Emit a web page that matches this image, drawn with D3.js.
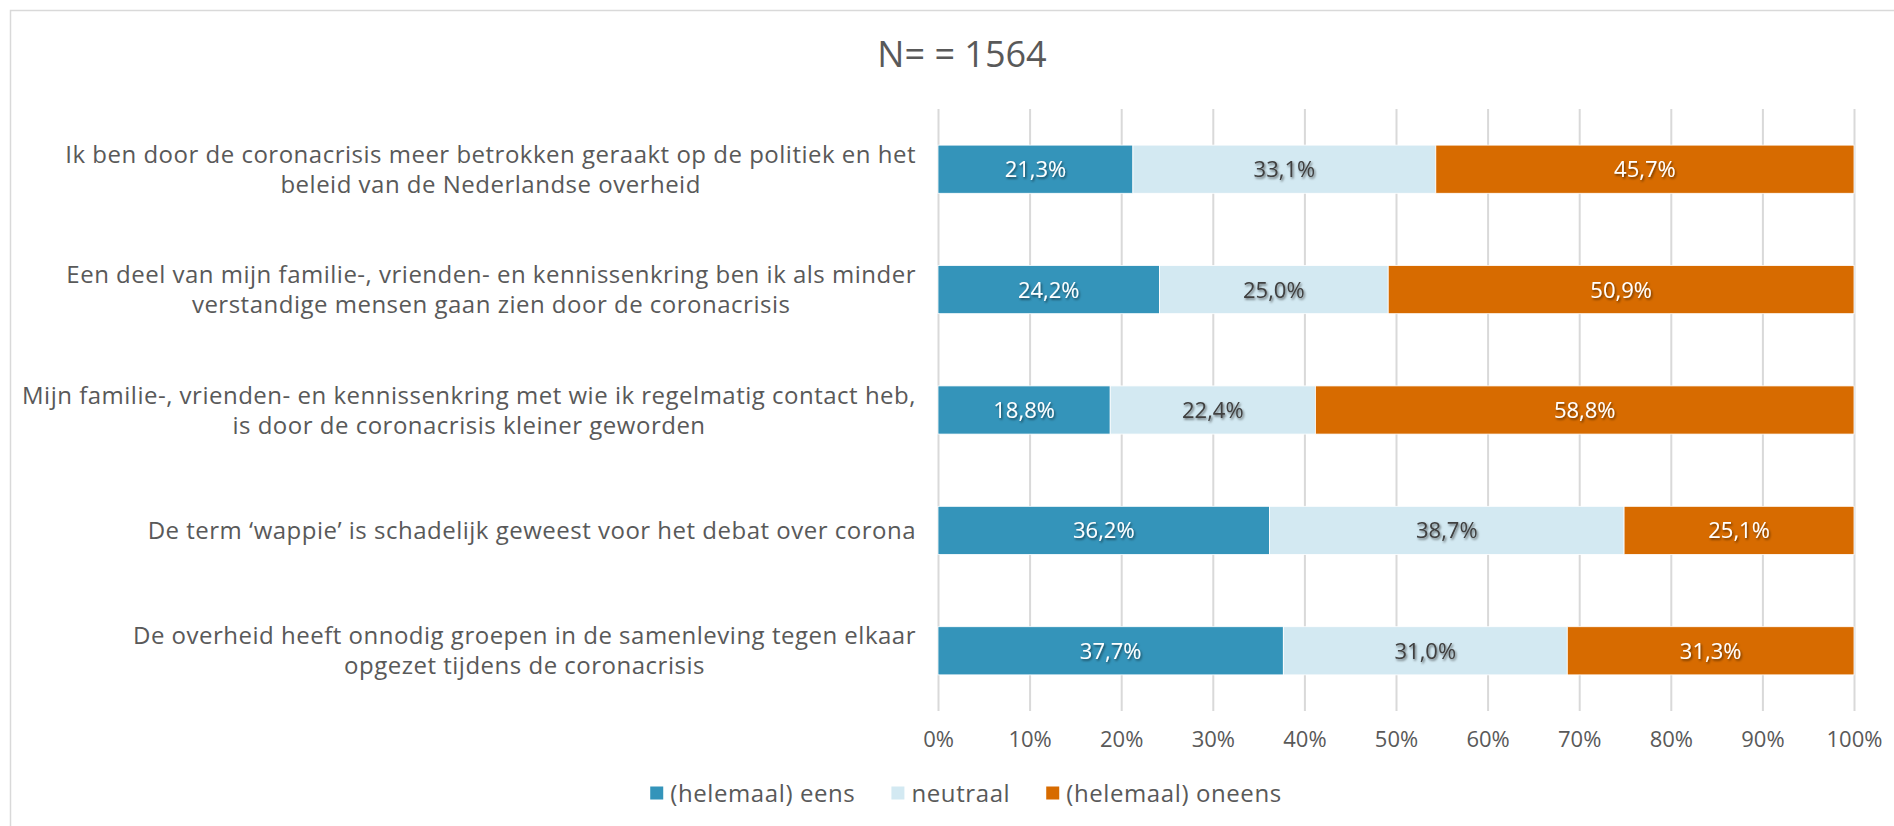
<!DOCTYPE html>
<html>
<head>
<meta charset="utf-8">
<script src="https://cdn.jsdelivr.net/npm/d3@7"></script>
<style>
    body { margin: 0; background: #fff; }
    text { font-family: "Open Sans", "DejaVu Sans", sans-serif; }
</style>
</head>
<body>
<script>
"use strict";

// statements, one line per array entry
const statements = [
    ["Ik ben door de coronacrisis meer betrokken geraakt op de politiek en het", "beleid van de Nederlandse overheid"],
    ["Een deel van mijn familie-, vrienden- en kennissenkring ben ik als minder", "verstandige mensen gaan zien door de coronacrisis"],
    ["Mijn familie-, vrienden- en kennissenkring met wie ik regelmatig contact heb,", "is door de coronacrisis kleiner geworden"],
    ["De term \u2018wappie\u2019 is schadelijk geweest voor het debat over corona"],
    ["De overheid heeft onnodig groepen in de samenleving tegen elkaar", "opgezet tijdens de coronacrisis"]
];
const seriesNames = ["(helemaal) eens", "neutraal", "(helemaal) oneens"];
const eens = [21.3, 24.2, 18.8, 36.2, 37.7];
const neutraal = [33.1, 25.0, 22.4, 38.7, 31.0];
const oneens = [45.7, 50.9, 58.8, 25.1, 31.3];
const ticks = [0, 0.1, 0.2, 0.3, 0.4, 0.5, 0.6, 0.7, 0.8, 0.9, 1];
const title = "N= = 1564";

(function(){
    const measurements = {
        width: 1894,
        height: 826,
        marginLeft: 938,
        marginRight: 40,
        marginTop: 109,
        marginBottom: 115
    }

    const colors = ["#3494ba", "#d3e9f2", "#d76b00"]
    const labelColors = ["#ffffff", "#404040", "#ffffff"]
    const grey = "#595959"

    let svgContainer = d3.select("body").append("svg")
        .attr("width", measurements.width)
        .attr("height", measurements.height)

    // soft shadow for the data labels
    let defs = svgContainer.append("defs")
    let shadow = defs.append("filter").attr("id", "shadow")
        .attr("x", "-20%").attr("y", "-20%").attr("width", "140%").attr("height", "140%")
    shadow.append("feDropShadow")
        .attr("dx", 1.2).attr("dy", 1.6).attr("stdDeviation", 1.2)
        .attr("flood-color", "#000").attr("flood-opacity", 0.55)

    // chart frame
    svgContainer.append("rect")
        .attr("x", 10.5).attr("y", 10.5)
        .attr("width", 1900).attr("height", 1000)
        .attr("fill", "none")
        .attr("stroke", "#d9d9d9")
        .attr("stroke-width", 1.5)

    // build rows for the stack
    let rows = statements.map((s, i) => ({
        key: i,
        [seriesNames[0]]: eens[i],
        [seriesNames[1]]: neutraal[i],
        [seriesNames[2]]: oneens[i]
    }))

    let stacked = d3.stack()
        .keys(seriesNames)
        .offset(d3.stackOffsetExpand)(rows)

    let scaleX = d3.scaleLinear()
        .domain([0, 1])
        .range([measurements.marginLeft, measurements.width - measurements.marginRight])

    let scaleY = d3.scaleBand()
        .domain(rows.map(d => d.key))
        .range([measurements.marginTop, measurements.height - measurements.marginBottom])
        .paddingInner(0.6)
        .paddingOuter(0.3)

    // title
    svgContainer.append("text")
        .attr("x", 962)
        .attr("y", 67)
        .attr("text-anchor", "middle")
        .style("font-size", "36px")
        .style("fill", grey)
        .text(title)

    drawGrid(scaleX, scaleY)
    drawBars(scaleX, scaleY)
    drawCategoryLabels(scaleY)
    drawLegend()

    function drawGrid(scaleX, scaleY) {
        let xAxis = d3.axisBottom(scaleX)
            .tickValues(ticks)
            .tickFormat(d3.format(".0%"))
            .tickSize(-(scaleY.range()[1] - scaleY.range()[0]))
            .tickPadding(20)

        let axisG = svgContainer.append("g")
            .attr("transform", "translate(0," + scaleY.range()[1] + ")")
            .call(xAxis)
        axisG.select(".domain").remove()
        axisG.selectAll(".tick line")
            .attr("stroke", "#d9d9d9")
            .attr("stroke-width", 2)
        axisG.selectAll(".tick text")
            .style("font-size", "22px")
            .style("font-family", "'Open Sans', sans-serif")
            .style("fill", grey)
    }

    function drawBars(scaleX, scaleY) {
        let groups = svgContainer.selectAll(".series")
            .data(stacked)
            .enter()
            .append("g")
            .attr("class", "series")
            .attr("fill", (d, i) => colors[i])

        groups.selectAll("rect")
            .data(d => d)
            .enter()
            .append("rect")
            .attr("x", d => scaleX(d[0]))
            .attr("y", d => scaleY(d.data.key))
            .attr("width", d => scaleX(d[1]) - scaleX(d[0]))
            .attr("height", scaleY.bandwidth())
            .attr("stroke", "#fff")
            .attr("stroke-width", 0.8)

        // value labels
        let labels = svgContainer.selectAll(".series-labels")
            .data(stacked)
            .enter()
            .append("g")
            .attr("class", "series-labels")
            .style("fill", (d, i) => labelColors[i])

        labels.selectAll("text")
            .data(d => d.map(p => ({ p: p, key: d.key })))
            .enter()
            .append("text")
            .attr("x", d => (scaleX(d.p[0]) + scaleX(d.p[1])) / 2)
            .attr("y", d => scaleY(d.p.data.key) + scaleY.bandwidth() / 2)
            .attr("dy", "0.36em")
            .attr("text-anchor", "middle")
            .attr("filter", "url(#shadow)")
            .style("font-size", "22px")
            .text(d => d.p.data[d.key].toFixed(1).replace(".", ",") + "%")
    }

    function drawCategoryLabels(scaleY) {
        const rightEdge = 916
        const lineHeight = 30

        statements.forEach((lines, i) => {
            let g = svgContainer.append("g")
            let cy = scaleY(i) + scaleY.bandwidth() / 2
            let texts = lines.map((line, j) => g.append("text")
                .attr("y", cy + (j - (lines.length - 1) / 2) * lineHeight)
                .attr("dy", "0.36em")
                .attr("text-anchor", "middle")
                .style("font-size", "24px")
                .style("letter-spacing", "0.5px")
                .style("fill", grey)
                .text(line))
            // lines are centred on each other, block is right aligned
            let maxWidth = d3.max(texts, t => t.node().getBBox().width)
            texts.forEach(t => t.attr("x", rightEdge - maxWidth / 2))
        })
    }

    function drawLegend() {
        const swatch = 13
        const gap = 7
        const itemGap = 36
        let legend = svgContainer.append("g")
        let x = 0
        seriesNames.forEach((name, i) => {
            legend.append("rect")
                .attr("x", x)
                .attr("y", -swatch / 2)
                .attr("width", swatch)
                .attr("height", swatch)
                .attr("fill", colors[i])
            let t = legend.append("text")
                .attr("x", x + swatch + gap)
                .attr("dy", "0.36em")
                .style("font-size", "24px")
                .style("letter-spacing", "0.6px")
                .style("fill", grey)
                .text(name)
            x += swatch + gap + t.node().getBBox().width + itemGap
        })
        let total = x - itemGap
        legend.attr("transform", "translate(" + (966 - total / 2) + ",793)")
    }

})()
</script>
</body>
</html>
